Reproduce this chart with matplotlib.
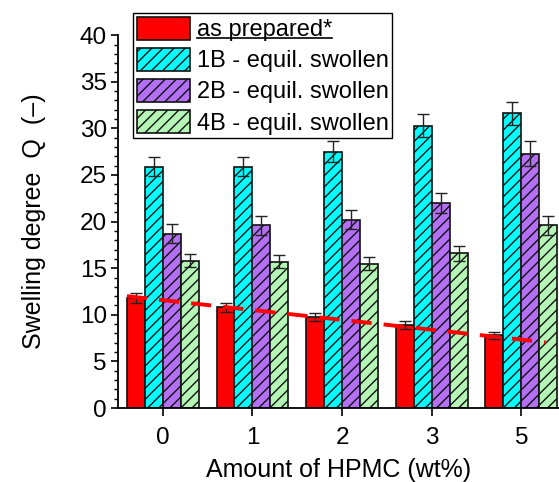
import matplotlib.pyplot as plt
import numpy as np
from matplotlib.lines import Line2D

plt.rcParams['font.family'] = ['Liberation Sans', 'DejaVu Sans']
plt.rcParams['hatch.linewidth'] = 1.0

hpmc_labels = ["0", "1", "2", "3", "5"]

as_prepared = [11.8, 10.8, 9.75, 8.9, 7.8]
as_prepared_err = [0.55, 0.45, 0.45, 0.45, 0.4]
swollen_1b = [25.9, 25.9, 27.5, 30.3, 31.6]
swollen_1b_err = [1.05, 1.0, 1.1, 1.2, 1.2]
swollen_2b = [18.7, 19.6, 20.2, 22.0, 27.3]
swollen_2b_err = [1.0, 1.0, 1.0, 1.1, 1.3]
swollen_4b = [15.8, 15.7, 15.5, 16.6, 19.6]
swollen_4b_err = [0.7, 0.7, 0.7, 0.8, 1.0]

# dashed guide line through the as-prepared values
trend_x = [-0.4, 4.27]
trend_y = [12.0, 7.05]

series = [
    (as_prepared, as_prepared_err, "#ff0000", None, "as prepared*"),
    (swollen_1b, swollen_1b_err, "#00ffff", "///", "1B - equil. swollen"),
    (swollen_2b, swollen_2b_err, "#b370f5", "///", "2B - equil. swollen"),
    (swollen_4b, swollen_4b_err, "#b5f5b5", "///", "4B - equil. swollen"),
]

fig = plt.figure(figsize=(5.59, 4.82), dpi=100)
ax = fig.add_axes([0.211, 0.1535, 0.789, 0.7735])

x = np.arange(len(hpmc_labels))
width = 0.2
handles = []
for i, (vals, errs, color, hatch, label) in enumerate(series):
    pos = x - 0.3 + i * width
    b = ax.bar(pos, vals, width, color=color, edgecolor="#111111",
               linewidth=1.2, hatch=hatch, label=label, zorder=2)
    ax.errorbar(pos, vals, yerr=errs, fmt="none", ecolor="#222222",
                elinewidth=1.0, capsize=4, capthick=1.0, zorder=3)
    handles.append(b)

ax.plot(trend_x, trend_y, color="#ff0000", linewidth=2.8,
        dashes=(5.2, 3.1), zorder=4)

ax.set_xlim(-0.5, 4.42)
ax.set_ylim(0, 40)
ax.set_xticks(x)
ax.set_xticklabels(hpmc_labels)
ax.set_yticks(np.arange(0, 41, 5))
ax.set_yticks(np.arange(0, 41, 1), minor=True)
ax.tick_params(axis="both", which="major", labelsize=17.5, direction="out",
               length=5, width=1.2)
ax.tick_params(axis="y", which="minor", direction="out", length=3, width=1.0)
ax.tick_params(axis="y", which="major", pad=3)
ax.tick_params(axis="x", which="major", length=6, pad=8)

for side in ["top", "right"]:
    ax.spines[side].set_visible(False)
for side in ["left", "bottom"]:
    ax.spines[side].set_linewidth(1.3)

ax.set_xlabel("Amount of HPMC (wt%)", fontsize=18, labelpad=6)
ax.set_ylabel("Swelling degree  Q  (\u2013)", fontsize=18, labelpad=24)

leg = ax.legend(handles=handles, loc="upper left",
                bbox_to_anchor=(133 / 559, 1 - 13 / 482),
                bbox_transform=fig.transFigure, fontsize=17,
                frameon=True, fancybox=False, edgecolor="black",
                framealpha=1, borderaxespad=0, borderpad=0.15,
                handlelength=2.25, handleheight=1.15, labelspacing=0.27,
                handletextpad=0.3)
leg.get_frame().set_linewidth(1.0)

# underline the first legend entry
fig.canvas.draw()
bb = leg.get_texts()[0].get_window_extent().transformed(fig.transFigure.inverted())
uy = bb.y0 + 0.006
fig.add_artist(Line2D([bb.x0, bb.x1], [uy, uy], color="black",
                      linewidth=1.2, transform=fig.transFigure))

fig.savefig("out.png", dpi=100)
